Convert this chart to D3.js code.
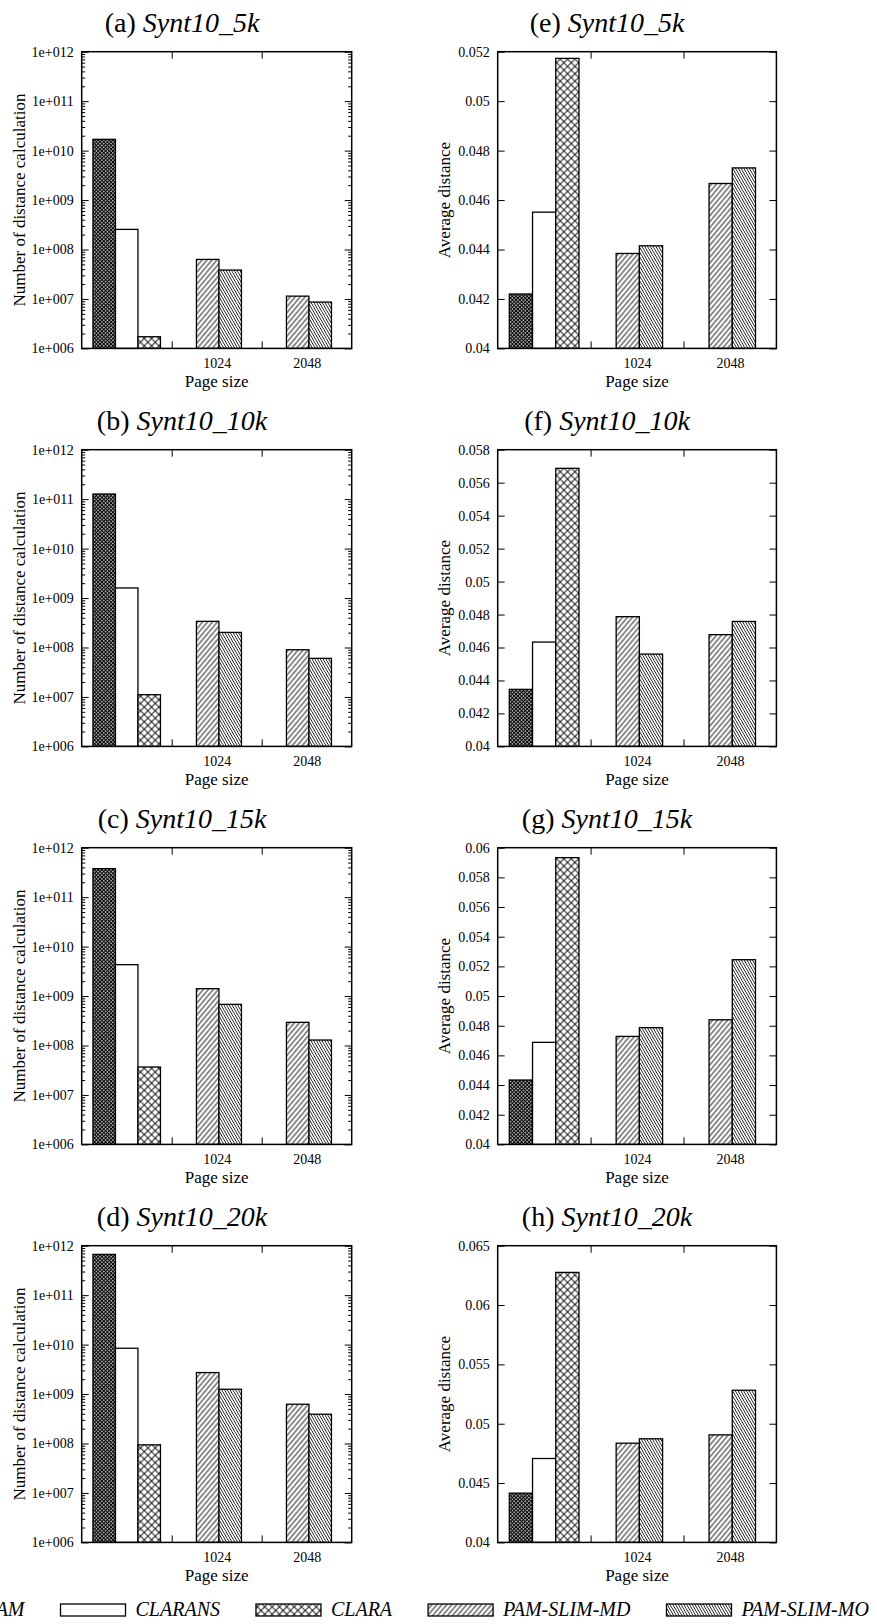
<!DOCTYPE html>
<html lang="en">
<head>
<meta charset="UTF-8">
<title>PAM-SLIM experiments</title>
<script src="https://cdnjs.cloudflare.com/ajax/libs/d3/7.8.5/d3.min.js"></script>
<style>
  body { margin: 0; background: #fff; }
</style>
</head>
<body>
<svg width="877" height="1624"></svg>
<script>
"use strict";

// methods, datasets, page sizes
const methods = ["PAM", "CLARANS", "CLARA", "PAM-SLIM-MD", "PAM-SLIM-MO"];
const datasets = ["Synt10_5k", "Synt10_10k", "Synt10_15k", "Synt10_20k"];
const pageSizes = ["1024", "2048"];
const leftLetters = ["a", "b", "c", "d"];
const rightLetters = ["e", "f", "g", "h"];

// number of distance calculations (one value per dataset)
const pamCalc     = [1.69e10, 1.27e11, 3.77e11, 6.67e11];
const claransCalc = [2.55e8, 1.60e9, 4.31e9, 8.43e9];
const claraCalc   = [1.72e6, 1.11e7, 3.67e7, 9.40e7];
const mdCalc1024  = [6.30e7, 3.38e8, 1.41e9, 2.72e9];
const moCalc1024  = [3.84e7, 2.02e8, 6.79e8, 1.25e9];
const mdCalc2048  = [1.14e7, 9.00e7, 2.94e8, 6.23e8];
const moCalc2048  = [8.65e6, 6.03e7, 1.29e8, 3.91e8];

// average distance
const pamDist     = [0.0422, 0.04346, 0.04434, 0.04415];
const claransDist = [0.04551, 0.04633, 0.04688, 0.04707];
const claraDist   = [0.05173, 0.05687, 0.05933, 0.06275];
const mdDist1024  = [0.04384, 0.04787, 0.04728, 0.04836];
const moDist1024  = [0.04415, 0.04560, 0.04787, 0.04873];
const mdDist2048  = [0.04667, 0.04678, 0.04840, 0.04906];
const moDist2048  = [0.04730, 0.04758, 0.05245, 0.05282];

// y axis ranges of the average distance panels
const distMax  = [0.052, 0.058, 0.06, 0.065];
const distStep = [0.002, 0.002, 0.002, 0.005];

const serif = "'Liberation Serif', Tinos, 'Times New Roman', Times, 'DejaVu Serif'";
const svg = d3.select("svg").style("font-family", serif);
svg.append("rect").attr("width", 877).attr("height", 1624).attr("fill", "#fff");
const defs = svg.append("defs");

function hatch(id, spacing, angle, sw) {
    const p = defs.append("pattern").attr("id", id)
        .attr("patternUnits", "userSpaceOnUse")
        .attr("width", spacing).attr("height", 10)
        .attr("patternTransform", `rotate(${angle})`);
    p.append("rect").attr("width", spacing).attr("height", 10).attr("fill", "#fff");
    p.append("line").attr("x1", spacing / 2).attr("x2", spacing / 2)
        .attr("y1", 0).attr("y2", 10)
        .attr("stroke", "#000").attr("stroke-width", sw);
}
function cross(id, spacing, sw) {
    const p = defs.append("pattern").attr("id", id)
        .attr("patternUnits", "userSpaceOnUse")
        .attr("width", spacing).attr("height", spacing)
        .attr("patternTransform", "rotate(45)");
    p.append("rect").attr("width", spacing).attr("height", spacing).attr("fill", "#fff");
    p.append("path")
        .attr("d", `M${spacing / 2},0V${spacing}M0,${spacing / 2}H${spacing}`)
        .attr("stroke", "#000").attr("stroke-width", sw);
}
cross("pPAM", 2.6, 1.15);
cross("pCLARA", 5.2, 0.9);
hatch("pMD", 3.8, 40, 0.9);
hatch("pMO", 2.4, -30, 0.8);
const fills = ["url(#pPAM)", "#fff", "url(#pCLARA)", "url(#pMD)", "url(#pMO)"];

// layout
const cols = [{ left: 81.7, width: 270, titleX: 182, ylabX: 25 },
              { left: 497.7, width: 278.7, titleX: 607, ylabX: 450 }];
const top0 = 51.7, rowStep = 398, boxH = 296.7;
const slots = [0.5, 1.5, 2.5, 5.1, 6.1, 9.1, 10.1];
const slotMethod = [0, 1, 2, 3, 4, 3, 4];

const logFmt = d => "1e+" + String(Math.round(Math.log10(d))).padStart(3, "0");

function styleAxis(sel, size) {
    sel.select(".domain").remove();
    sel.attr("font-family", null).attr("font-size", size);
    sel.selectAll("line").attr("stroke", "#000");
    sel.selectAll("text").attr("fill", "#000").style("font-family", serif);
}

function panel(col, row) {
    const c = cols[col];
    const W = c.width, H = boxH, T = top0 + row * rowStep;
    const g = svg.append("g").attr("transform", `translate(${c.left},${T})`);
    const x = d3.scaleLinear().domain([0, 12]).range([0, W]);
    let y, major, minor = [], fmt, vals;

    if (col === 0) {
        y = d3.scaleLog().domain([1e6, 1e12]).range([H, 0]);
        major = d3.range(6, 13).map(e => Math.pow(10, e));
        d3.range(6, 12).forEach(e => d3.range(2, 10).forEach(m => minor.push(m * Math.pow(10, e))));
        fmt = logFmt;
        vals = [pamCalc[row], claransCalc[row], claraCalc[row],
                mdCalc1024[row], moCalc1024[row], mdCalc2048[row], moCalc2048[row]];
    } else {
        y = d3.scaleLinear().domain([0.04, distMax[row]]).range([H, 0]);
        const n = Math.round((distMax[row] - 0.04) / distStep[row]);
        major = d3.range(n + 1).map(i => +(0.04 + i * distStep[row]).toFixed(4));
        fmt = d3.format("~g");
        vals = [pamDist[row], claransDist[row], claraDist[row],
                mdDist1024[row], moDist1024[row], mdDist2048[row], moDist2048[row]];
    }

    // bars
    g.selectAll("rect.bar").data(vals).join("rect")
        .attr("class", "bar")
        .attr("x", (d, i) => x(slots[i]))
        .attr("width", x(1) - x(0))
        .attr("y", d => y(d))
        .attr("height", d => H - y(d))
        .attr("fill", (d, i) => fills[slotMethod[i]])
        .attr("stroke", "#000").attr("stroke-width", 1.3);

    // y ticks, both sides
    g.append("g").call(d3.axisLeft(y).tickValues(major).tickSize(-7).tickSizeOuter(0)
        .tickPadding(8).tickFormat(fmt)).call(s => styleAxis(s, 14));
    g.append("g").attr("transform", `translate(${W},0)`)
        .call(d3.axisRight(y).tickValues(major).tickSize(-7).tickSizeOuter(0).tickFormat(""))
        .call(s => styleAxis(s, 14));
    if (minor.length) {
        g.append("g").call(d3.axisLeft(y).tickValues(minor).tickSize(-3.5).tickSizeOuter(0).tickFormat(""))
            .call(s => styleAxis(s, 14));
        g.append("g").attr("transform", `translate(${W},0)`)
            .call(d3.axisRight(y).tickValues(minor).tickSize(-3.5).tickSizeOuter(0).tickFormat(""))
            .call(s => styleAxis(s, 14));
    }

    // x ticks top and bottom, labels under the groups
    g.append("g").attr("transform", `translate(0,${H})`)
        .call(d3.axisBottom(x).tickValues([4, 8]).tickSize(-7).tickSizeOuter(0).tickFormat(""))
        .call(s => styleAxis(s, 14));
    g.append("g")
        .call(d3.axisTop(x).tickValues([4, 8]).tickSize(-7).tickSizeOuter(0).tickFormat(""))
        .call(s => styleAxis(s, 14));
    g.append("g").attr("transform", `translate(0,${H})`)
        .call(d3.axisBottom(x).tickValues([6, 10]).tickSize(0).tickPadding(10)
            .tickFormat((d, i) => pageSizes[i]))
        .call(s => styleAxis(s, 14));

    // frame
    g.append("rect").attr("width", W).attr("height", H)
        .attr("fill", "none").attr("stroke", "#000").attr("stroke-width", 1.5);

    // axis titles
    g.append("text").attr("x", W / 2).attr("y", H + 39)
        .style("font-family", serif)
        .attr("text-anchor", "middle").attr("font-size", 17).text("Page size");
    svg.append("text")
        .attr("transform", `translate(${c.ylabX},${T + H / 2}) rotate(-90)`)
        .style("font-family", serif)
        .attr("text-anchor", "middle").attr("font-size", 17)
        .text(col === 0 ? "Number of distance calculation" : "Average distance");

    // panel title
    const t = svg.append("text").attr("x", c.titleX).attr("y", T - 20)
        .style("font-family", serif)
        .attr("text-anchor", "middle").attr("font-size", 28);
    t.append("tspan").text(`(${col === 0 ? leftLetters[row] : rightLetters[row]}) `);
    t.append("tspan").attr("font-style", "italic").text(datasets[row]);
}

datasets.forEach((d, row) => { panel(0, row); panel(1, row); });

// legend along the bottom (runs past both page edges, as in the original)
const legend = svg.append("g").style("font-family", serif)
    .attr("font-size", 20).attr("font-style", "italic");
let lx = -89;
const swW = 65, swH = 12, legY = 1604;
methods.forEach((m, i) => {
    legend.append("rect").attr("x", lx).attr("y", legY).attr("width", swW).attr("height", swH)
        .attr("fill", fills[i]).attr("stroke", "#000").attr("stroke-width", 1.3);
    const t = legend.append("text").attr("x", lx + swW + 10).attr("y", legY + swH).text(m);
    lx += swW + 10 + t.node().getComputedTextLength() + 36;
});
</script>
</body>
</html>
